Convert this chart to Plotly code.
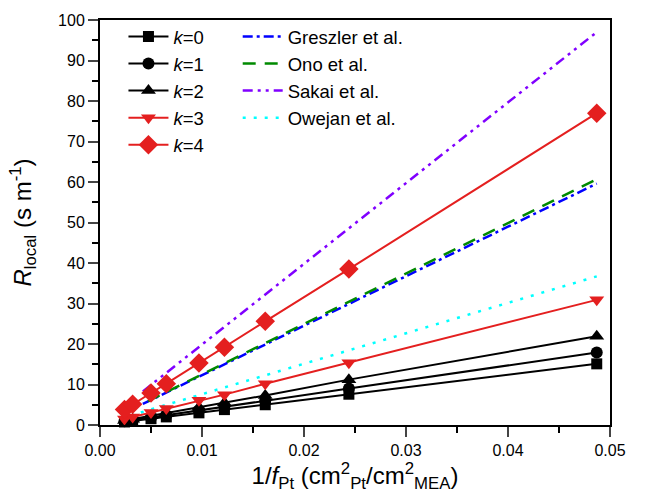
import plotly.graph_objects as go

x_pts = [0.0024, 0.0032, 0.0050, 0.0065, 0.0097, 0.0122, 0.0162, 0.0244, 0.0487]
k0 = [0.75, 1.0, 1.55, 2.0, 3.0, 3.8, 5.0, 7.6, 15.1]
k1 = [0.9, 1.2, 1.8, 2.4, 3.6, 4.5, 6.0, 9.0, 17.9]
k2 = [1.1, 1.45, 2.3, 2.9, 4.4, 5.5, 7.3, 11.2, 21.9]
k3 = [1.5, 2.0, 3.1, 4.1, 6.1, 7.5, 10.2, 15.4, 30.9]
k4 = [3.8, 5.1, 7.9, 10.2, 15.3, 19.2, 25.6, 38.5, 77.0]

greszler_x = [0.0042, 0.0487]
greszler_y = [5.2, 59.6]
ono_x = [0.0047, 0.0487]
ono_y = [5.9, 60.7]
sakai_x = [0.0042, 0.0487]
sakai_y = [8.3, 97.0]
owejan_x = [0.0040, 0.0487]
owejan_y = [3.1, 36.7]

BLACK = "#000000"
RED = "#e41f1f"

fig = go.Figure()

refs = [
    ("Greszler et al.", greszler_x, greszler_y, "#0000ff", "10px,4px,3px,4px"),
    ("Ono et al.", ono_x, ono_y, "#008a00", "13px,9px"),
    ("Sakai et al.", sakai_x, sakai_y, "#8000ff", "10px,5px,3px,5px,3px,5px"),
    ("Owejan et al.", owejan_x, owejan_y, "#00ffff", "3px,8px"),
]
for name, xs, ys, col, dash in refs:
    fig.add_trace(go.Scatter(x=xs, y=ys, mode="lines", name=name,
                             line=dict(color=col, width=2.5, dash=dash),
                             legend="legend2"))

series = [
    ("<i>k</i>=0", k0, BLACK, "square", 11),
    ("<i>k</i>=1", k1, BLACK, "circle", 12),
    ("<i>k</i>=2", k2, BLACK, "triangle-up", 13),
    ("<i>k</i>=3", k3, RED, "triangle-down", 13),
    ("<i>k</i>=4", k4, RED, "diamond", 15),
]
for name, ys, col, sym, sz in series:
    fig.add_trace(go.Scatter(x=x_pts, y=ys, mode="lines+markers", name=name,
                             line=dict(color=col, width=2),
                             marker=dict(symbol=sym, size=sz, color=col),
                             cliponaxis=False, legend="legend"))

font = "Liberation Sans, Arial, sans-serif"
fig.update_layout(
    width=647, height=499,
    margin=dict(l=100, r=37, t=16, b=74),
    paper_bgcolor="white", plot_bgcolor="white",
    font=dict(family=font, color="black"),
    legend=dict(x=0.046, y=1.005, xanchor="left", yanchor="top",
                font=dict(size=18.5), bgcolor="rgba(0,0,0,0)",
                tracegroupgap=0, itemwidth=40),
    legend2=dict(x=0.27, y=1.005, xanchor="left", yanchor="top",
                 font=dict(size=18.5), bgcolor="rgba(0,0,0,0)",
                 tracegroupgap=0, itemwidth=40),
    xaxis=dict(range=[0, 0.05], tickvals=[0, 0.01, 0.02, 0.03, 0.04, 0.05],
               tickformat=".2f", ticks="outside", ticklen=10, tickwidth=2,
               showline=True, linewidth=2, linecolor="black", mirror=True,
               showgrid=False, zeroline=False,
               tickfont=dict(size=16),
               minor=dict(tickvals=[0.005, 0.015, 0.025, 0.035, 0.045],
                          ticks="outside", ticklen=6, tickwidth=2, tickcolor="black"),
               title=dict(text="1/<i>f</i><sub>Pt</sub> (cm<sup>2</sup><sub>Pt</sub>/cm<sup>2</sup><sub>MEA</sub>)",
                          font=dict(size=24), standoff=9)),
    yaxis=dict(range=[0, 100], dtick=10, ticks="outside", ticklen=10, tickwidth=2,
               showline=True, linewidth=2, linecolor="black", mirror=True,
               showgrid=False, zeroline=False,
               tickfont=dict(size=16),
               minor=dict(dtick=5, ticks="outside", ticklen=6, tickwidth=2, tickcolor="black"),
               title=dict(text="<i>R</i><sub>local</sub> (s m<sup>-1</sup>)",
                          font=dict(size=24), standoff=20)),
)

fig.write_html("out.html")
